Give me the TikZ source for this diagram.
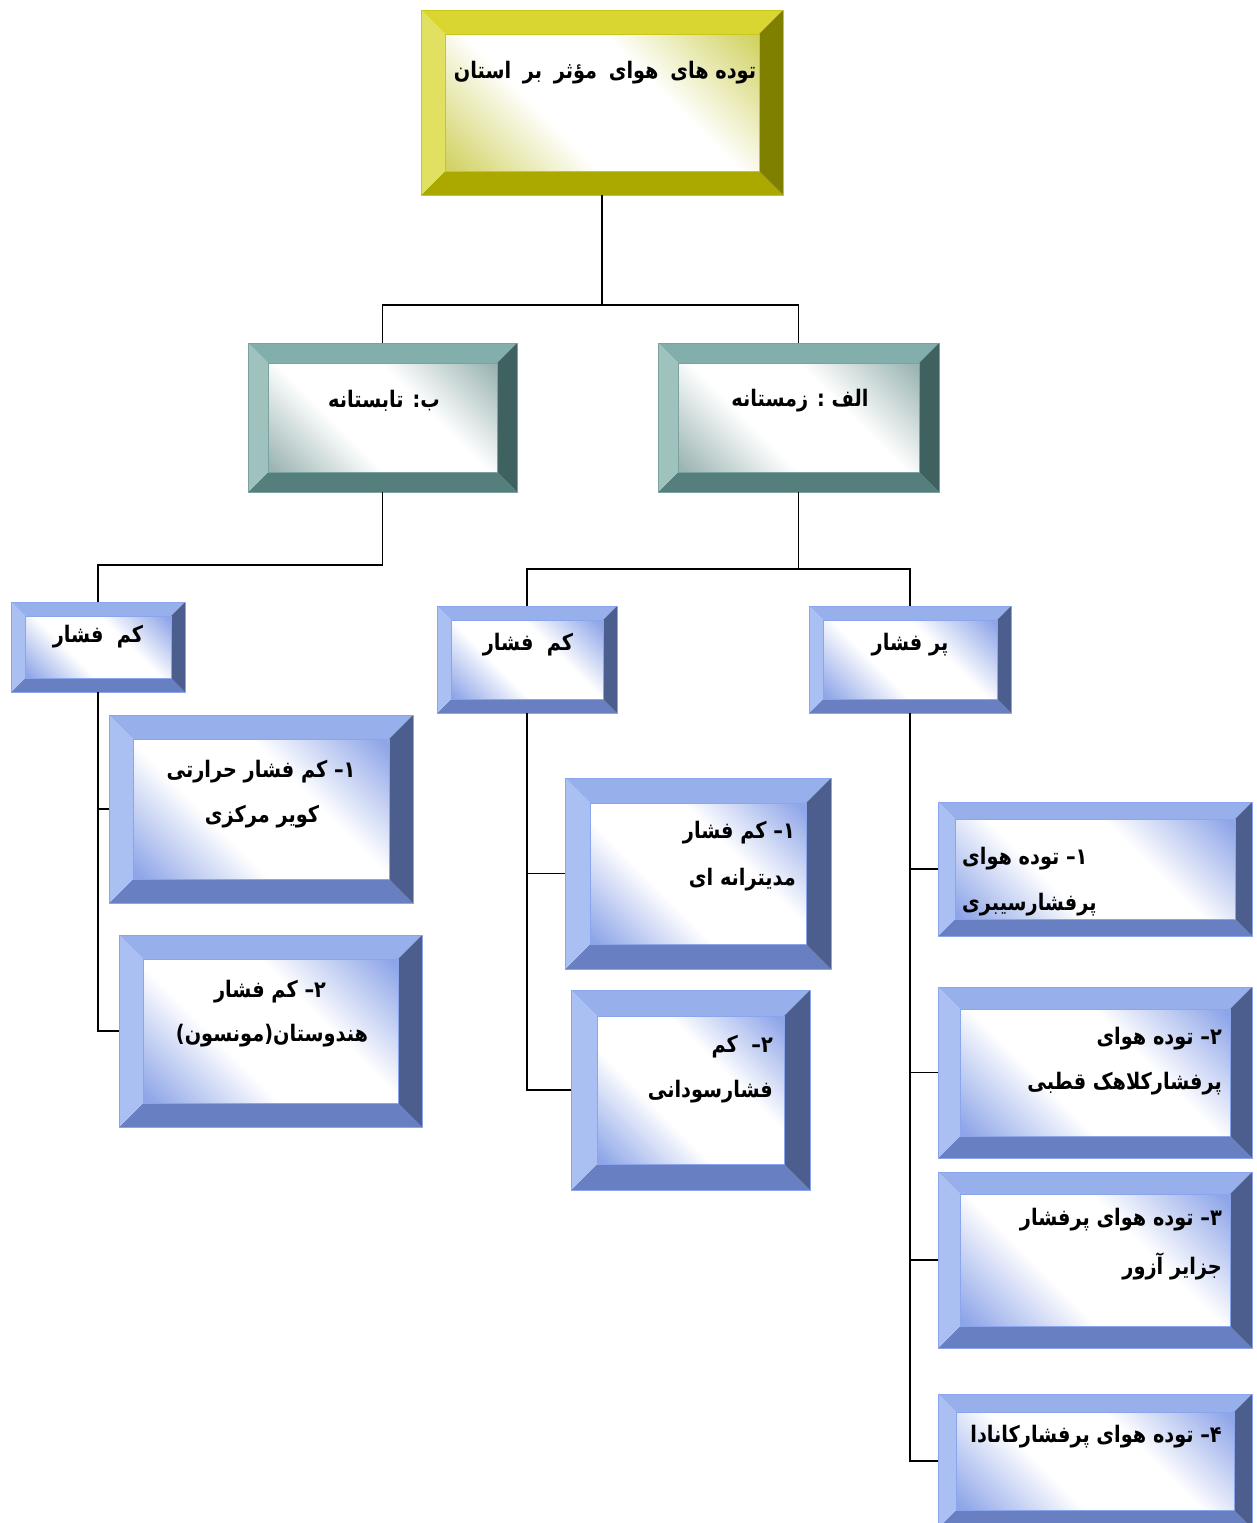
\documentclass[tikz,border=0pt]{standalone}
\usepackage{fontspec}
\usepackage{graphicx}
\newfontfamily\fa[Script=Arabic]{DejaVu Sans}
\TeXXeTstate=1
\usetikzlibrary{calc}
% palettes
\definecolor{bTop}{HTML}{97AFEB}
\definecolor{bLeft}{HTML}{AABFF2}
\definecolor{bRight}{HTML}{4B5E8E}
\definecolor{bBot}{HTML}{6880C2}
\definecolor{bFace}{HTML}{8EA5E8}
\definecolor{bEdge}{HTML}{8AA5EC}
\definecolor{tTop}{HTML}{82AFAB}
\definecolor{tLeft}{HTML}{A0C2BF}
\definecolor{tRight}{HTML}{3F615F}
\definecolor{tBot}{HTML}{547F7C}
\definecolor{tFace}{HTML}{9BB5B3}
\definecolor{tEdge}{HTML}{7AA3A0}
\definecolor{yTop}{HTML}{D9D632}
\definecolor{yLeft}{HTML}{E2E060}
\definecolor{yRight}{HTML}{808000}
\definecolor{yBot}{HTML}{ABA800}
\definecolor{yFace}{HTML}{D2D366}
\definecolor{yEdge}{HTML}{C9C71E}
\pgfdeclarehorizontalshading{bShade}{100bp}{color(0bp)=(bFace); color(16bp)=(bFace); color(39bp)=(white); color(61bp)=(white); color(84bp)=(bFace); color(100bp)=(bFace)}
\pgfdeclarehorizontalshading{tShade}{100bp}{color(0bp)=(tFace); color(16bp)=(tFace); color(39bp)=(white); color(61bp)=(white); color(84bp)=(tFace); color(100bp)=(tFace)}
\pgfdeclarehorizontalshading{yShade}{100bp}{color(0bp)=(yFace); color(16bp)=(yFace); color(39bp)=(white); color(61bp)=(white); color(84bp)=(yFace); color(100bp)=(yFace)}
\tikzset{
  conn/.style={draw=black, line width=1.6pt},
  txt/.style={font=\fa\bfseries\fontsize{19.3}{23}\selectfont, inner sep=0pt, text=black},
}
\newcommand\rtx[1]{\scalebox{1}[1.18]{\beginR #1\endR}}
% #1 palette, #2 x1, #3 y1, #4 x2, #5 y2, #6 bevel, #7 name
\newcommand\bevbox[7]{%
  \fill[#1Top] (#2,#3) -- (#4,#3) -- ({#4-#6},{#3+#6}) -- ({#2+#6},{#3+#6}) -- cycle;
  \fill[#1Bot] (#2,#5) -- (#4,#5) -- ({#4-#6},{#5-#6}) -- ({#2+#6},{#5-#6}) -- cycle;
  \fill[#1Left] (#2,#3) -- ({#2+#6},{#3+#6}) -- ({#2+#6},{#5-#6}) -- (#2,#5) -- cycle;
  \fill[#1Right] (#4,#3) -- ({#4-#6},{#3+#6}) -- ({#4-#6},{#5-#6}) -- (#4,#5) -- cycle;
  \shade[shading=#1Shade, shading angle=45] ({#2+#6},{#3+#6}) rectangle ({#4-#6},{#5-#6});
  \draw[#1Edge, line width=0.7pt] ({#2+#6},{#3+#6}) rectangle ({#4-#6},{#5-#6});
  \node[draw=#1Edge, line width=0.8pt, rectangle, inner sep=0pt,
        minimum width={#4-#2}, minimum height={#5-#3}] (#7) at ({(#2+#4)/2},{(#3+#5)/2}) {};
}
\begin{document}
\begin{tikzpicture}[x=1pt,y=-1pt]
\useasboundingbox (0,0) rectangle (1256,1523);
\fill[white] (0,0) rectangle (1256,1523);
\coordinate (j0) at (602,305);
\coordinate (j1) at (382.5,565);
\coordinate (j2) at (798.5,569);
% boxes
\bevbox{y}{421}{10}{783}{195}{24}{top}
\bevbox{t}{248}{343}{517}{492}{20}{tab}
\bevbox{t}{658}{343}{939}{492}{20}{zem}
\bevbox{b}{11}{602}{185}{692}{14}{kfl}
\bevbox{b}{437}{606}{617}{713}{14}{kfm}
\bevbox{b}{809}{606}{1011}{713}{14}{pf}
\bevbox{b}{109}{715}{413}{903}{24}{bA}
\bevbox{b}{119}{935}{422}{1127}{24}{bB}
\bevbox{b}{565}{778}{831}{969}{25}{bC}
\bevbox{b}{571}{990}{810}{1190}{26}{bD}
\bevbox{b}{938}{802}{1252}{936}{17}{bE}
\bevbox{b}{938}{987}{1252}{1158}{22}{bF}
\bevbox{b}{938}{1172}{1252}{1348}{22}{bG}
\bevbox{b}{938}{1394}{1252}{1528}{18}{bH}
% connectors
\draw[conn] (top.south) -- (j0);
\draw[conn] (j0) -| (tab.north);
\draw[conn] (j0) -| (zem.north);
\draw[conn] (tab.south) -- (j1) -| (kfl.north);
\draw[conn] (zem.south) -- (j2);
\draw[conn] (j2) -| (kfm.north);
\draw[conn] (j2) -| (pf.north);
\draw[conn] (kfl.south) |- (bB.west);
\draw[conn] (kfl.south |- bA.west) -- (bA.west);
\draw[conn] (kfm.south) |- (bD.west);
\draw[conn] (kfm.south |- bC.west) -- (bC.west);
\draw[conn] (pf.south) |- (bH.west);
\draw[conn] (pf.south |- bE.west) -- (bE.west);
\draw[conn] (pf.south |- bF.west) -- (bF.west);
\draw[conn] (pf.south |- bG.west) -- (bG.west);
% texts
\node[txt] (tTop) at (605,73) {\rtx{توده های\hspace{5pt} هوای\hspace{5pt} مؤثر\hspace{5pt} بر\hspace{5pt} استان}};
\node[txt] (tTab) at (384,401) {\rtx{ب\kern0pt: تابستانه}};
\node[txt] (tZem) at (800,401) {\rtx{الف : زمستانه}};
\node[txt] (tKfl) at (98,637) {\rtx{کم\ \ فشار}};
\node[txt] (tKfm) at (528,645) {\rtx{کم\ \ فشار}};
\node[txt] (tPf) at (910,645) {\rtx{پر فشار}};
\node[txt] (tA1) at (261,772) {\rtx{۱\kern0pt– کم فشار حرارتی}};
\node[txt] (tA2) at (262,817) {\rtx{کویر مرکزی}};
\node[txt] (tB1) at (270,992) {\rtx{۲\kern0pt– کم فشار}};
\node[txt] (tB2) at (272,1036) {\rtx{هندوستان(مونسون)}};
\node[txt,anchor=east] (tC1) at (795,833) {\rtx{۱\kern0pt– کم فشار}};
\node[txt,anchor=east] (tC2) at (796,880) {\rtx{مدیترانه ای}};
\node[txt,anchor=east] (tD1) at (773,1047) {\rtx{۲\kern0pt–\ \ کم}};
\node[txt,anchor=east] (tD2) at (773,1092) {\rtx{فشارسودانی}};
\node[txt,anchor=west] (tE1) at (962,859) {\rtx{۱\kern0pt– توده هوای}};
\node[txt,anchor=west] (tE2) at (962,905) {\rtx{پرفشارسیبری}};
\node[txt,anchor=east] (tF1) at (1222,1039) {\rtx{۲\kern0pt– توده هوای}};
\node[txt,anchor=east] (tF2) at (1222,1084) {\rtx{پرفشارکلاهک قطبی}};
\node[txt,anchor=east] (tG1) at (1222,1220) {\rtx{۳\kern0pt– توده هوای پرفشار}};
\node[txt,anchor=east] (tG2) at (1222,1266) {\rtx{جزایر آزور}};
\node[txt,anchor=east] (tH1) at (1222,1437) {\rtx{۴\kern0pt– توده هوای پرفشارکانادا}};
\end{tikzpicture}
\end{document}
